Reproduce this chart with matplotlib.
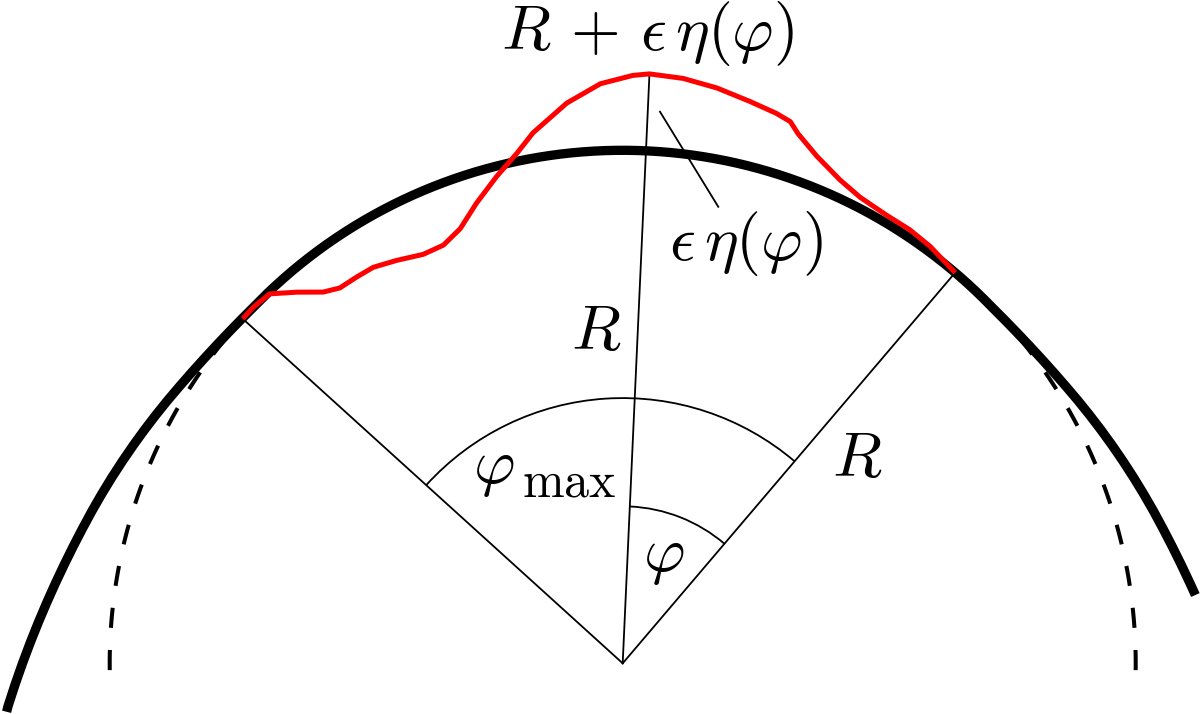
import numpy as np
import matplotlib.pyplot as plt
from matplotlib.patches import Arc

plt.rcParams['mathtext.fontset'] = 'cm'

# geometry: R = 1, centre at origin, angles in degrees from the vertical (+ = right)
PX = 513.0          # pixels per R in the picture
R = 1.0
left_deg = -47.8    # left radius
right_deg = 40.4    # right radius
mid_deg = 2.6       # radius up to R + eps*eta
arc_big = 0.517     # phi_max arc
arc_small = 0.306   # phi arc

# red curve R + eps*eta(phi): offsets from the circle, in pixels
eta_deg = [-47.8, -46.0, -43.7, -41.3, -38.9, -37.0, -34.5, -32.2, -29.3, -26.0,
           -23.2, -20.5, -17.6, -14.5, -11.7, -9.6, -5.7, -2.2, 1.0, 2.6,
           5.9, 9.3, 12.8, 15.6, 17.2, 18.3, 20.95, 24.2, 27.0, 30.5,
           33.5, 36.4, 40.4]
eta_px = [0, 0, -2, -19, -36, -43, -44, -45, -51, -58,
          -58, -49, -30, -10, 8, 25, 50, 67, 75, 77,
          75, 70, 63, 58, 54, 45, 30, 17, 10, 7,
          7, 5, 0]

# thick curve leaves the circle on both flanks: outward offset in pixels
flank_deg = [46, 48, 50, 52, 54, 56, 58, 60, 62, 64, 66, 68, 70, 72, 74, 76,
             78, 80, 82, 84, 86, 88, 90, 92, 94, 94.5]
flank_px = [0, 0.6, 1.6, 3.0, 4.8, 7.0, 9.6, 12.6, 15.8, 19.2, 22.8, 26.6,
            30.6, 34.8, 39.2, 43.8, 48.8, 54.2, 60.0, 66.2, 72.8, 79.8, 87.2,
            95.0, 103.2, 105.0]
right_end = 83.2
dash_end = 93.2


def xy(deg, r):
    t = np.radians(deg)
    return r * np.sin(t), r * np.cos(t)


fig = plt.figure(figsize=(12, 7.14), dpi=100)
ax = fig.add_axes([0, 0, 1, 1])
ax.set_xlim(-622.7 / PX, 577.3 / PX)
ax.set_ylim(-50.7 / PX, 663.3 / PX)
ax.axis('off')

fd = np.array(flank_deg)
fo = np.array(flank_px) / PX

# dashed continuation of the circle
for s in (-1, 1):
    a = s * np.linspace(flank_deg[0], dash_end, 120)
    x, y = xy(a, R)
    ax.plot(x, y, color='black', lw=2.9, dashes=(5, 5.5), zorder=1)

# thick curve
mid = np.linspace(-flank_deg[0], flank_deg[0], 300)
keep = fd <= right_end
ang = np.concatenate([-fd[::-1], mid, fd[keep], [right_end]])
rad = np.concatenate([R + fo[::-1], np.full(mid.size, R), R + fo[keep],
                      [R + np.interp(right_end, fd, fo)]])
x, y = xy(ang, rad)
ax.plot(x, y, color='black', lw=6.7, solid_capstyle='butt',
        solid_joinstyle='round', zorder=2)

# radii
lw_thin = 1.3
for a in (left_deg, right_deg):
    x, y = xy(a, R)
    ax.plot([0, x], [0, y], color='black', lw=lw_thin, zorder=3)
r_top = R + np.interp(mid_deg, eta_deg, eta_px) / PX
x, y = xy(mid_deg, r_top)
ax.plot([0, x], [0, y], color='black', lw=lw_thin, zorder=3)

# angle arcs
ax.add_patch(Arc((0, 0), 2 * arc_big, 2 * arc_big, theta1=90 - right_deg,
                 theta2=90 - left_deg, color='black', lw=lw_thin, zorder=3))
ax.add_patch(Arc((0, 0), 2 * arc_small, 2 * arc_small, theta1=90 - right_deg,
                 theta2=90 - mid_deg, color='black', lw=lw_thin, zorder=3))

# perturbed curve
x, y = xy(np.array(eta_deg), R + np.array(eta_px) / PX)
ax.plot(x, y, color='red', lw=3.6, solid_capstyle='butt',
        solid_joinstyle='round', zorder=4)

# pointer for eps*eta
ax.plot([0.0727, 0.1863], [1.0752, 0.8899], color='black', lw=lw_thin, zorder=3)

fs = 46
ax.text(0.049, 1.196, r'$R\,+\,\epsilon\,\eta(\varphi)$', fontsize=fs,
        ha='center', va='baseline')
ax.text(0.2413, 0.786, r'$\epsilon\,\eta(\varphi)$', fontsize=fs,
        ha='center', va='baseline')
ax.text(-0.052, 0.6107, r'$R$', fontsize=fs, ha='center', va='baseline')
ax.text(0.457, 0.3632, r'$R$', fontsize=fs, ha='center', va='baseline')
ax.text(-0.2517, 0.3515, r'$\varphi$', fontsize=fs, ha='center', va='baseline')
ax.text(-0.1963, 0.3242, r'$\mathrm{max}$', fontsize=36, ha='left', va='baseline')
ax.text(0.0805, 0.1799, r'$\varphi$', fontsize=fs, ha='center', va='baseline')

fig.savefig('out.png', dpi=100)
